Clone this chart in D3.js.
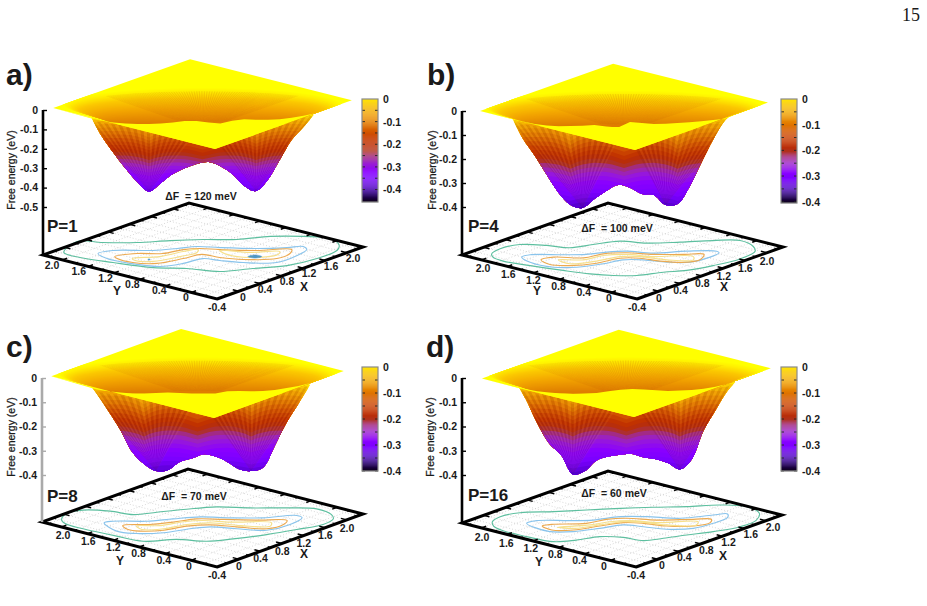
<!DOCTYPE html>
<html>
<head>
<meta charset="utf-8">
<script src="https://cdn.jsdelivr.net/npm/d3@7"></script>
<style>
  html, body { margin: 0; background: #fff; }
  svg { display: block; font-family: "Liberation Sans", Arial, sans-serif; }
  text { fill: #1a1a1a; white-space: pre; }
  .tick-num { font-size: 10.5px; font-weight: bold; }
</style>
</head>
<body>
<svg id="fig" width="927" height="606"></svg>
<script>
// Free-energy landscapes for increasing bead number P.
// Valley coordinate along the double well, shared by the profile arrays below.
const valleyS = [-1.9,-1.7,-1.5,-1.3,-1.1,-0.9,-0.7,-0.5,-0.3,-0.1,0.1,0.3,0.5,0.7,0.9,1.1,1.3,1.5,1.7,1.9];

// Lowest free energy (eV) seen at each valley coordinate.
const depthA = [-0.02,-0.134,-0.22,-0.30,-0.37,-0.42,-0.376,-0.33,-0.30,-0.278,-0.268,-0.29,-0.33,-0.39,-0.418,-0.36,-0.258,-0.155,-0.088,-0.015];
const depthB = [-0.02,-0.117,-0.1875,-0.267,-0.342,-0.392,-0.404,-0.367,-0.333,-0.308,-0.32,-0.346,-0.35,-0.392,-0.388,-0.317,-0.217,-0.12,-0.04,0];
const depthC = [0,-0.064,-0.137,-0.214,-0.305,-0.355,-0.384,-0.38,-0.346,-0.332,-0.315,-0.324,-0.346,-0.376,-0.384,-0.37,-0.28,-0.184,-0.106,-0.027];
const depthD = [0,-0.085,-0.187,-0.27,-0.318,-0.398,-0.384,-0.34,-0.324,-0.317,-0.313,-0.328,-0.335,-0.351,-0.377,-0.336,-0.217,-0.134,-0.055,0];

// Height of the front lip of the flat plateau, expressed in eV below the zero level.
const rimA = [-0.041,-0.055,-0.065,-0.069,-0.072,-0.072,-0.069,-0.065,-0.057,-0.057,-0.064,-0.069,-0.055,-0.048,-0.05,-0.05,-0.048,-0.04,-0.029,-0.017];
const rimB = [-0.031,-0.044,-0.054,-0.06,-0.064,-0.063,-0.061,-0.058,-0.065,-0.069,-0.046,-0.05,-0.054,-0.053,-0.05,-0.047,-0.043,-0.037,-0.032,-0.0125];
const rimC = [-0.033,-0.047,-0.055,-0.06,-0.064,-0.064,-0.062,-0.06,-0.062,-0.064,-0.064,-0.064,-0.055,-0.054,-0.055,-0.054,-0.049,-0.041,-0.033,-0.021];
const rimD = [-0.034,-0.045,-0.055,-0.06,-0.064,-0.066,-0.064,-0.062,-0.055,-0.048,-0.045,-0.047,-0.051,-0.054,-0.052,-0.049,-0.044,-0.036,-0.025,-0.004];

// Scalloping of the iso-energy bands on the well wall (eV), over a finer valley grid.
const rippleS = [-1.9,-1.8,-1.7,-1.6,-1.5,-1.4,-1.3,-1.2,-1.1,-1.0,-0.9,-0.8,-0.7,-0.6,-0.5,-0.4,-0.3,-0.2,-0.1,0,0.1,0.2,0.3,0.4,0.5,0.6,0.7,0.8,0.9,1.0,1.1,1.2,1.3,1.4,1.5,1.6,1.7,1.8,1.9];
const rippleDrop = [0.03,0.01,0.002,0,0,0.001,0.002,0.006,0.014,0.026,0.042,0.024,0.012,0.004,0,0.001,0.004,0.012,0.024,0.036,0.024,0.012,0.004,0.001,0,0.004,0.012,0.024,0.042,0.026,0.014,0.006,0.002,0,0,0,0.002,0.01,0.03];

// Contour rings on the base plane, as [valley, cross-valley] pairs.
const tealA = [[-2.32,-0.08],[-2.1,0.53],[-1.67,0.47],[-1.1,0.47],[-0.55,0.58],[0,0.64],[0.57,0.64],[1.12,0.81],[1.67,0.81],[2.12,0.69],[2.27,0.31],[2.23,0.03],[1.9,-0.42],[1.4,-0.81],[0.83,-0.97],[0.28,-1.14],[-0.27,-0.97],[-0.83,-0.92],[-1.5,-0.64],[-2.05,-0.36]];
const blueA = [[-1.75,-0.14],[-1.5,0.03],[-0.83,0.03],[-0.43,0.14],[-0.1,0.25],[0.28,0.19],[0.9,0.14],[1.4,0.19],[1.67,0.25],[1.73,0.08],[1.57,-0.25],[1.23,-0.64],[0.67,-0.64],[0.28,-0.53],[0,-0.42],[-0.33,-0.69],[-0.72,-0.86],[-1.22,-0.69],[-1.6,-0.42]];
const orangeA = [[-1.47,-0.31],[-1.1,-0.14],[-0.67,-0.14],[-0.33,0.08],[-0.05,0.14],[0.28,0.08],[0.9,0.03],[1.48,0.08],[1.45,-0.14],[1.23,-0.42],[0.67,-0.47],[0.28,-0.36],[-0.02,-0.19],[-0.33,-0.42],[-0.77,-0.69],[-1.17,-0.64],[-1.43,-0.42]];
const yellowA1 = [[-1.18,-0.42],[-0.72,-0.31],[-0.33,-0.03],[-0.08,0.08],[-0.1,-0.08],[-0.38,-0.31],[-0.83,-0.58],[-1.13,-0.53]];
const yellowA2 = [[0.28,0.03],[0.78,-0.08],[1.28,-0.03],[1.25,-0.19],[0.78,-0.36],[0.4,-0.19]];
const deepPatchA = [[0.75,-0.31],[0.87,-0.22],[0.98,-0.31],[0.87,-0.39]];
const deepDotA = [[-0.92,-0.47],[-0.9,-0.44],[-0.88,-0.47],[-0.9,-0.5]];

const tealB = [[-2.18,-0.16],[-2.04,0.12],[-1.71,0.36],[-1.26,0.31],[-0.88,0.18],[-0.49,0.36],[-0.04,0.55],[0.4,0.44],[0.96,0.49],[1.51,0.58],[1.96,0.58],[2.18,0.25],[2.21,-0.01],[1.96,-0.44],[1.51,-0.81],[1.07,-1.08],[0.68,-1.18],[0.24,-1.36],[-0.15,-1.36],[-0.54,-1.27],[-0.99,-1.08],[-1.54,-0.81],[-1.99,-0.56],[-2.16,-0.34]];
const blueB = [[-1.68,-0.34],[-1.54,-0.21],[-0.99,-0.21],[-0.6,-0.19],[-0.26,-0.06],[0.07,-0.01],[0.51,-0.12],[1.07,-0.01],[1.57,-0.01],[1.61,-0.1],[1.46,-0.34],[1.13,-0.62],[0.74,-0.62],[0.35,-0.49],[0.01,-0.49],[-0.32,-0.71],[-0.76,-0.9],[-1.15,-0.9],[-1.54,-0.62]];
const orangeB = [[-1.36,-0.49],[-1.15,-0.34],[-0.65,-0.38],[-0.32,-0.16],[0.07,-0.1],[0.51,-0.19],[1.01,-0.19],[1.36,-0.19],[1.29,-0.49],[1.07,-0.62],[0.63,-0.56],[0.29,-0.4],[-0.04,-0.4],[-0.43,-0.68],[-0.88,-0.81],[-1.21,-0.75]];
const yellowB = [[-1.07,-0.49],[-0.65,-0.49],[-0.32,-0.25],[0.07,-0.19],[0.51,-0.31],[1.18,-0.31],[1.18,-0.49],[0.74,-0.49],[0.29,-0.31],[-0.04,-0.31],[-0.43,-0.56],[-0.88,-0.71]];

const tealC = [[-2.35,-0.08],[-2.26,0.25],[-1.99,0.44],[-1.54,0.38],[-1.15,0.19],[-0.76,0.32],[-0.32,0.47],[0.24,0.62],[0.79,0.56],[1.35,0.56],[1.9,0.51],[2.15,0.19],[2.18,-0.05],[2.01,-0.36],[1.57,-0.64],[1.07,-0.92],[0.51,-1.16],[0.07,-1.29],[-0.43,-1.19],[-0.99,-1.29],[-1.43,-1.01],[-1.99,-0.6],[-2.29,-0.31]];
const blueC = [[-1.64,-0.27],[-1.49,-0.18],[-0.93,-0.18],[-0.49,-0.05],[-0.04,0.06],[0.46,0.01],[1.01,0.01],[1.57,0.14],[1.66,0.01],[1.46,-0.36],[1.07,-0.68],[0.57,-0.6],[0.13,-0.49],[-0.21,-0.6],[-0.65,-0.82],[-1.1,-0.86],[-1.43,-0.73]];
const orangeC = [[-1.33,-0.42],[-0.88,-0.36],[-0.49,-0.23],[-0.1,-0.05],[0.35,-0.08],[0.9,-0.12],[1.41,-0.14],[1.35,-0.36],[1.07,-0.6],[0.57,-0.49],[0.13,-0.38],[-0.26,-0.45],[-0.65,-0.68],[-1.04,-0.73],[-1.24,-0.64]];
const yellowC = [[-1.1,-0.45],[-0.71,-0.42],[-0.32,-0.21],[0.01,-0.14],[0.46,-0.23],[1.15,-0.27],[1.13,-0.45],[0.63,-0.42],[0.13,-0.27],[-0.26,-0.36],[-0.65,-0.6],[-1.01,-0.64]];

const tealD = [[-2.16,-0.15],[-2.03,0.13],[-1.7,0.35],[-1.14,0.41],[-0.59,0.5],[-0.03,0.59],[0.52,0.65],[1.08,0.69],[1.63,0.78],[2.08,0.69],[2.29,0.31],[2.24,-0.06],[1.97,-0.43],[1.52,-0.7],[1.08,-0.89],[0.69,-1.07],[0.36,-1.2],[0.02,-1.02],[-0.37,-0.98],[-0.76,-1.17],[-1.14,-1.26],[-1.59,-0.98],[-1.98,-0.65],[-2.14,-0.39]];
const blueD = [[-1.59,-0.24],[-1.42,-0.09],[-0.87,-0.09],[-0.48,-0.06],[-0.03,0.13],[0.41,0.13],[0.97,0.04],[1.52,0.22],[1.76,0.28],[1.76,0.09],[1.52,-0.24],[1.19,-0.52],[0.74,-0.57],[0.36,-0.43],[0.02,-0.33],[-0.37,-0.52],[-0.81,-0.7],[-1.2,-0.7],[-1.45,-0.48]];
const orangeD = [[-1.33,-0.39],[-1.17,-0.3],[-0.59,-0.24],[-0.26,-0.02],[0.08,0.04],[0.58,-0.06],[1.19,-0.02],[1.49,-0.02],[1.47,-0.2],[1.19,-0.39],[0.74,-0.39],[0.36,-0.24],[0.02,-0.2],[-0.37,-0.39],[-0.81,-0.61],[-1.17,-0.61]];
const yellowD = [[-1.08,-0.46],[-0.53,-0.33],[-0.2,-0.15],[0.13,-0.09],[0.63,-0.2],[1.27,-0.15],[1.24,-0.33],[0.74,-0.33],[0.36,-0.19],[0.02,-0.15],[-0.37,-0.33],[-0.78,-0.52]];

// Axis ticks and labels.
const planeTicks = [0, 0.4, 0.8, 1.2, 1.6, 2.0];
const planeMarks = [-0.4,-0.2,0,0.2,0.4,0.6,0.8,1.0,1.2,1.4,1.6,1.8,2.0,2.2];
const energyTicksA = [0,-0.1,-0.2,-0.3,-0.4,-0.5];
const energyTicksOther = [0,-0.1,-0.2,-0.3,-0.4];
const barTicks = [0,-0.1,-0.2,-0.3,-0.4];
const barMinorTicks = [-0.05,-0.1,-0.15,-0.2,-0.25,-0.3,-0.35,-0.4];

// Colour map: position along the bar (0 = top) to colour.
const paletteAt = [0,0.05,0.15,0.25,0.35,0.44,0.5,0.55,0.62,0.7,0.77,0.85,0.92,1];
const paletteCol = ["#ffe400","#f9c800","#ef9c00","#df7200","#cc4600","#bd2c00","#b0301c","#a32c7c","#9a1fd0","#8a00ff","#7a00ff","#5200c8","#2a0070","#0a0010"];
const palette = d3.scaleLinear().domain(paletteAt).range(paletteCol);
// The surface itself stops short of the darkest end of the bar.
const surfaceTone = d3.scaleLinear().domain([0, 0.62, 1]).range([0, 0.64, 0.88]);

const contourColours = { teal: "#5dbf9f", blue: "#8ac4ec", orange: "#eca950", yellow: "#f6e08c", deep: "#4f97c4" };

// Panel layout.
const panels = [
  { id: "a", tag: "a)", tagAt: [6, 85], pLabel: "P=1", pAt: [47, 232], gap: "ΔF  = 120 meV", gapAt: [201, 200],
    depth: depthA, rim: rimA, wallDepth: -0.1,
    base: { b: [217, 299], r: [363, 247], l: [43, 255] }, plate: { dx: -2, dy: -150, xMax: 2.13, yMax: 2.11 },
    zTicks: energyTicksA, zRange: [110, 207], zEnd: -0.5, zLabelX: 11, zLabelY: 170, axisCol: "#000",
    bar: { x: 362, y0: 99, y1: 202, min: -0.455 },
    xFrom: [243, 297], xTo: [353, 258], yFrom: [186, 297], yTo: [52, 265], xName: [304, 287], yName: [117, 291],
    rings: { teal: [tealA], blue: [blueA], orange: [orangeA], yellow: [yellowA1, yellowA2], deep: [deepPatchA, deepDotA] } },
  { id: "b", tag: "b)", tagAt: [427, 85], pLabel: "P=4", pAt: [468, 232], gap: "ΔF  = 100 meV", gapAt: [617, 232],
    depth: depthB, rim: rimB, wallDepth: -0.08,
    base: { b: [637, 299], r: [783, 247], l: [462, 255] }, plate: { dx: -2, dy: -149, xMax: 2.06, yMax: 1.99 },
    zTicks: energyTicksOther, zRange: [111, 207], zEnd: -0.4, zLabelX: 432, zLabelY: 170, axisCol: "#000",
    bar: { x: 781, y0: 99, y1: 203, min: -0.405 },
    xFrom: [659, 298], xTo: [767, 261], yFrom: [609, 298], yTo: [483, 268], xName: [724, 287], yName: [537, 291],
    rings: { teal: [tealB], blue: [blueB], orange: [orangeB], yellow: [yellowB], deep: [] } },
  { id: "c", tag: "c)", tagAt: [6, 357], pLabel: "P=8", pAt: [47, 502], gap: "ΔF  = 70 meV", gapAt: [194, 500],
    depth: depthC, rim: rimC, wallDepth: -0.08,
    base: { b: [217, 567], r: [363, 514], l: [42, 522] }, plate: { dx: -3, dy: -149, xMax: 2.0, yMax: 2.11 },
    zTicks: energyTicksOther, zRange: [378, 475], zEnd: -0.4, zLabelX: 11, zLabelY: 437, axisCol: "#aaa",
    bar: { x: 362, y0: 367, y1: 471, min: -0.4 },
    xFrom: [239, 566], xTo: [347, 528], yFrom: [189, 566], yTo: [63, 535], xName: [304, 554], yName: [120, 561],
    rings: { teal: [tealC], blue: [blueC], orange: [orangeC], yellow: [yellowC], deep: [] } },
  { id: "d", tag: "d)", tagAt: [426, 357], pLabel: "P=16", pAt: [468, 501], gap: "ΔF  = 60 meV", gapAt: [614, 497],
    depth: depthD, rim: rimD, wallDepth: -0.08,
    base: { b: [636, 567], r: [782, 515], l: [462, 523] }, plate: { dx: -2, dy: -150, xMax: 2.13, yMax: 1.96 },
    zTicks: energyTicksOther, zRange: [378, 475], zEnd: -0.4, zLabelX: 430, zLabelY: 437, axisCol: "#000",
    bar: { x: 781, y0: 367, y1: 471, min: -0.4 },
    xFrom: [662, 565], xTo: [773, 527], yFrom: [604, 566], yTo: [482, 537], xName: [723, 556], yName: [539, 562],
    rings: { teal: [tealD], blue: [blueD], orange: [orangeD], yellow: [yellowD], deep: [] } }
];

const svg = d3.select("#fig");
const defs = svg.append("defs");
const PLANE_DOMAIN = [-0.4, 2.3];
const VIEW_S = 59.4, VIEW_W = 18;
const fmtEnergy = v => v === 0 ? "0" : d3.format(".1f")(v).replace("−", "-");

// Page number.
svg.append("text").attr("x", 902).attr("y", 21)
  .style("font-family", '"Liberation Serif", serif').style("font-size", "18px").text("15");

panels.forEach(drawPanel);

function drawPanel(p) {
  const g = svg.append("g");
  const { b, r, l } = p.base;

  // Base plane: x runs along the lower-right edge, y along the lower-left edge.
  const xToPx = d3.scaleLinear().domain(PLANE_DOMAIN).range([0, r[0] - b[0]]);
  const xToPy = d3.scaleLinear().domain(PLANE_DOMAIN).range([0, r[1] - b[1]]);
  const yToPx = d3.scaleLinear().domain(PLANE_DOMAIN).range([0, l[0] - b[0]]);
  const yToPy = d3.scaleLinear().domain(PLANE_DOMAIN).range([0, l[1] - b[1]]);
  const onBase = (x, y) => [b[0] + xToPx(x) + yToPx(y), b[1] + xToPy(x) + yToPy(y)];
  const onPlate = (x, y) => { const q = onBase(x, y); return [q[0] + p.plate.dx, q[1] + p.plate.dy]; };
  const [x0, x1] = PLANE_DOMAIN;

  // Dotted grid.
  const grid = g.append("g").attr("fill", "none").attr("stroke", "#c9c9c9").attr("stroke-width", 0.7).attr("stroke-dasharray", "1 2");
  planeMarks.forEach(v => {
    grid.append("path").attr("d", d3.line()([onBase(v, x0), onBase(v, x1)]));
    grid.append("path").attr("d", d3.line()([onBase(x0, v), onBase(x1, v)]));
  });

  // Contour rings, in a view frame centred on the base.
  const cx = (l[0] + r[0]) / 2, cy = (onBase(x1, x1)[1] + b[1]) / 2;
  const ringS = d3.scaleLinear().domain([-1, 1]).range([cx - 60, cx + 60]);
  const ringW = d3.scaleLinear().domain([-1, 1]).range([cy + VIEW_W, cy - VIEW_W]);
  const ringLine = d3.line().x(d => ringS(d[0])).y(d => ringW(d[1])).curve(d3.curveCatmullRomClosed.alpha(0.5));
  ["teal", "blue", "orange", "yellow", "deep"].forEach(k => {
    p.rings[k].forEach(ring => {
      g.append("path").attr("d", ringLine(ring))
        .attr("fill", k === "deep" ? contourColours.deep : "none")
        .attr("stroke", contourColours[k]).attr("stroke-width", k === "deep" ? 0.6 : 1.15);
    });
  });

  // Ticks on all four edges of the base.
  const ticks = g.append("g").attr("stroke", "#000");
  planeMarks.forEach(v => {
    const major = Math.abs((v * 10) % 4) < 0.01;
    const len = major ? 0.09 : 0.05;
    const w = major ? 1.5 : 1;
    [[[v, x0], [v, x0 + len]], [[v, x1], [v, x1 - len]], [[x0, v], [x0 + len, v]], [[x1, v], [x1 - len, v]]].forEach(seg => {
      ticks.append("line").attr("stroke-width", w)
        .attr("x1", onBase(...seg[0])[0]).attr("y1", onBase(...seg[0])[1])
        .attr("x2", onBase(...seg[1])[0]).attr("y2", onBase(...seg[1])[1]);
    });
  });

  // Base outline.
  g.append("path").attr("fill", "none").attr("stroke", "#000").attr("stroke-width", 3).attr("stroke-linejoin", "miter")
    .attr("d", d3.line()([onBase(x0, x0), onBase(x1, x0), onBase(x1, x1), onBase(x0, x1)]) + "Z");

  // Tick labels on the plane.
  const labX = d3.scaleLinear().domain([0, 2]).range([p.xFrom[0], p.xTo[0]]);
  const labXy = d3.scaleLinear().domain([0, 2]).range([p.xFrom[1], p.xTo[1]]);
  const labY = d3.scaleLinear().domain([0, 2]).range([p.yFrom[0], p.yTo[0]]);
  const labYy = d3.scaleLinear().domain([0, 2]).range([p.yFrom[1], p.yTo[1]]);
  const centred = (sel, x, y, t) => sel.append("text").attr("class", "tick-num")
    .attr("x", x).attr("y", y).attr("dy", "0.36em").attr("text-anchor", "middle").text(t);
  planeTicks.forEach(v => {
    centred(g, labX(v), labXy(v), d3.format(".1f")(v).replace(/^0\.0$/, "0"));
    centred(g, labY(v), labYy(v), d3.format(".1f")(v).replace(/^0\.0$/, "0"));
  });
  centred(g, b[0], b[1] + 8, "-0.4");
  centred(g, p.xName[0], p.xName[1], "X").style("font-size", "12px");
  centred(g, p.yName[0], p.yName[1], "Y").style("font-size", "12px");

  // Energy axis up the left corner of the base.
  const zScale = d3.scaleLinear().domain([0, p.zEnd]).range(p.zRange);
  const zAxisG = g.append("g").attr("transform", `translate(${l[0]},0)`);
  zAxisG.append("line").attr("y1", p.zRange[0]).attr("y2", l[1]).attr("stroke", p.axisCol).attr("stroke-width", 2.6);
  zAxisG.call(d3.axisLeft(zScale).tickValues(p.zTicks).tickFormat(fmtEnergy).tickSizeInner(-4).tickSizeOuter(0).tickPadding(5));
  zAxisG.select(".domain").remove();
  zAxisG.selectAll(".tick line").attr("stroke", p.axisCol).attr("stroke-width", 1.4);
  zAxisG.selectAll(".tick text").attr("class", "tick-num").style("font-family", "inherit");
  g.append("text").attr("transform", `translate(${p.zLabelX + 4},${p.zLabelY}) rotate(-90)`).attr("text-anchor", "middle")
    .style("font-size", "10.5px").attr("stroke", "#1a1a1a").attr("stroke-width", 0.25).text("Free energy (eV)");

  // Well body: stacked iso-energy bands clipped to the silhouette.
  const plateLeft = onPlate(x0, p.plate.yMax), plateRight = onPlate(p.plate.xMax, x0);
  const plateTop = onPlate(p.plate.xMax, p.plate.yMax), plateNear = onPlate(x0, x0);
  const mid = (plateLeft[0] + plateRight[0]) / 2;
  const sPx = d3.scaleLinear().domain([-1, 1]).range([mid - VIEW_S, mid + VIEW_S]);

  const silhouette = d3.area().x((d, i) => sPx(valleyS[i])).y0(() => zScale(0) - 30).y1(d => zScale(d)).curve(d3.curveCatmullRom.alpha(0.5));
  const clipId = "body-" + p.id;
  defs.append("clipPath").attr("id", clipId).append("path").attr("d", silhouette(p.depth));

  const body = g.append("g").attr("clip-path", `url(#${clipId})`);
  const bandLevels = d3.range(0, -0.5, -0.018);
  // Scallops fade out toward the well bottoms.
  const rippleFade = d3.scaleLinear().domain([0, -0.45]).range([1, 0.15]).clamp(true);
  const bandEdge = L => d3.area().x((d, i) => sPx(rippleS[i])).y0(zScale(-1))
    .y1(d => zScale(L - d * rippleFade(L)))(rippleDrop);
  bandLevels.forEach(L => {
    body.append("path").attr("d", bandEdge(L)).attr("fill", palette(surfaceTone(Math.min(1, L / p.bar.min))));
  });

  // Fans of facets rising out of each well bottom.
  const rimAt = d3.scaleLinear().domain(valleyS).range(p.rim);
  const wellOf = pick => d3.least(valleyS.map((s, i) => [s, p.depth[i]]).filter(d => pick(d[0])), d => d[1]);
  const wellL = wellOf(s => s < 0), wellR = wellOf(s => s > 0);
  const fan = (well, from, to) => {
    d3.range(from, to, 0.12).forEach(s => {
      const top = sx => [sPx(sx), zScale(rimAt(sx) - 0.01)];
      const foot = [sPx(well[0]), zScale(well[1])];
      body.append("path").attr("d", d3.line()([foot, top(s), top(s + 0.06)]) + "Z").attr("fill", "#6a1200").attr("opacity", 0.13);
      body.append("path").attr("d", d3.line()([foot, top(s + 0.06), top(s + 0.12)]) + "Z").attr("fill", "#ffb040").attr("opacity", 0.09);
    });
  };
  fan(wellL, -1.9, 0);
  fan(wellR, 0, 1.88);

  // Flat plateau.
  const plateCorners = [plateLeft, plateTop, plateRight, plateNear];
  const plateId = "plate-" + p.id;
  defs.append("clipPath").attr("id", plateId).append("path").attr("d", d3.line()(plateCorners) + "Z");
  g.append("path").attr("d", d3.line()(plateCorners) + "Z").attr("fill", "#ffff00");

  // Far wall seen over the plateau: nested half-rings sinking toward the lip.
  const plateMidY = (plateTop[1] + plateNear[1]) / 2;
  const wallLong = d3.scaleLinear().domain([0, p.wallDepth]).range([2.35, 1.5]);
  const wallShort = d3.scaleLinear().domain([0, p.wallDepth]).range([0.95, 0.06]);
  const wallCol = d3.scaleLinear().domain([0, 0.1, 0.3, 0.6, 1].map(f => f * p.wallDepth))
    .range(["#ffff00", "#fff000", "#fbc800", "#f2a400", "#de7c00"]);
  const ringPath = L => {
    const yc = zScale(L) - zScale(0) + plateMidY;
    const angles = d3.range(0, 361, 6).map(a => a * Math.PI / 180);
    return d3.line()(angles.map(a => [sPx(wallLong(L) * Math.cos(a)), yc - VIEW_W * wallShort(L) * Math.sin(a)])) + "Z";
  };
  const wallId = "wall-" + p.id;
  defs.append("clipPath").attr("id", wallId).attr("clip-path", `url(#${plateId})`)
    .append("path").attr("d", ringPath(p.wallDepth * 0.12));
  const wallG = g.append("g").attr("clip-path", `url(#${plateId})`);
  d3.range(0, 1.001, 0.03).forEach(f => {
    const L = f * p.wallDepth;
    wallG.append("path").attr("d", ringPath(L)).attr("fill", wallCol(L));
  });
  const wallFacets = g.append("g").attr("clip-path", `url(#${wallId})`);
  const apex = [sPx(0), zScale(p.wallDepth) - zScale(0) + plateMidY + 6];
  d3.range(-3.4, 3.4, 0.08).forEach(s => {
    const tri = [apex, [sPx(s), plateTop[1]], [sPx(s + 0.04), plateTop[1]]];
    wallFacets.append("path").attr("d", d3.line()(tri) + "Z").attr("fill", "#b04600").attr("opacity", 0.14);
  });

  // Near half of the plateau, bounded behind by the irregular lip.
  const lip = valleyS.map((s, i) => [sPx(s), zScale(p.rim[i])]);
  g.append("path").attr("d", d3.line()([plateLeft, ...lip, plateRight, plateNear]) + "Z").attr("fill", "#ffff00");

  // Colour bar.
  const bar = p.bar;
  const barScale = d3.scaleLinear().domain([0, bar.min]).range([bar.y0, bar.y1]);
  const barG = g.append("g");
  d3.range(0, 1, 0.01).forEach(f => {
    barG.append("rect").attr("x", bar.x).attr("width", 16)
      .attr("y", bar.y0 + f * (bar.y1 - bar.y0)).attr("height", (bar.y1 - bar.y0) * 0.011)
      .attr("fill", palette(f));
  });
  barMinorTicks.filter(v => v >= bar.min).forEach(v => {
    [[bar.x, bar.x + 3], [bar.x + 13, bar.x + 16]].forEach(([a, c]) => {
      barG.append("line").attr("x1", a).attr("x2", c).attr("y1", barScale(v)).attr("y2", barScale(v))
        .attr("stroke", "#222").attr("stroke-width", 0.9);
    });
  });
  barG.append("rect").attr("x", bar.x).attr("y", bar.y0).attr("width", 16).attr("height", bar.y1 - bar.y0)
    .attr("fill", "none").attr("stroke", "#8a8a8a").attr("stroke-width", 1.2);
  const barAxis = g.append("g").attr("transform", `translate(${bar.x + 16},0)`)
    .call(d3.axisRight(barScale).tickValues(barTicks).tickFormat(fmtEnergy).tickSize(0).tickPadding(5));
  barAxis.select(".domain").remove();
  barAxis.selectAll("text").attr("class", "tick-num").style("font-family", "inherit");

  // Panel captions.
  g.append("text").attr("x", p.tagAt[0]).attr("y", p.tagAt[1]).style("font-size", "30px").style("font-weight", "bold").text(p.tag);
  g.append("text").attr("x", p.pAt[0]).attr("y", p.pAt[1]).style("font-size", "17px").style("font-weight", "bold").text(p.pLabel);
  g.append("text").attr("x", p.gapAt[0]).attr("y", p.gapAt[1]).attr("text-anchor", "middle")
    .style("font-size", "10.5px").style("font-weight", "bold").text(p.gap);
}
</script>
</body>
</html>
